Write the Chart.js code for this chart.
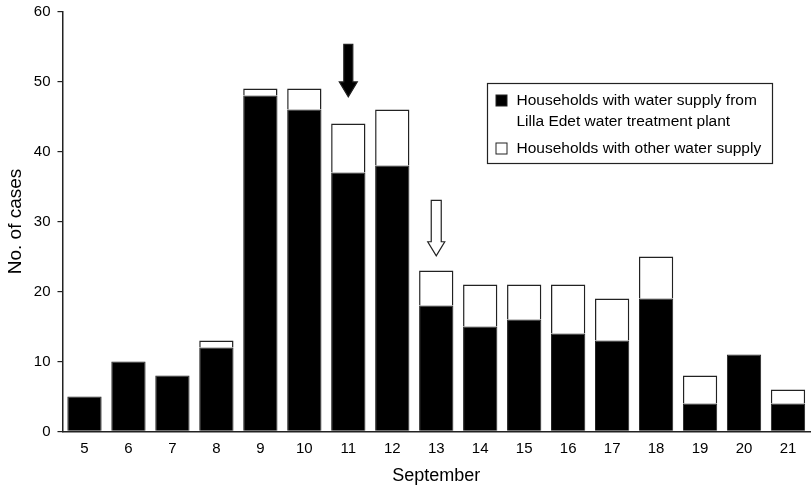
<!DOCTYPE html>
<html>
<head>
<meta charset="utf-8">
<script src="https://cdn.jsdelivr.net/npm/chart.js@4/dist/chart.umd.min.js"></script>
<style>
  html, body { margin: 0; padding: 0; background: #fff; }
  #wrap { width: 812px; height: 488px; }
</style>
</head>
<body>
<div id="wrap"><canvas id="casesChart" width="812" height="488"></canvas></div>
<script>
// days of September
var days = ['5', '6', '7', '8', '9', '10', '11', '12', '13', '14', '15', '16', '17', '18', '19', '20', '21'];
// households supplied by Lilla Edet plant
var lillaEdet = [5, 10, 8, 12, 48, 46, 37, 38, 18, 15, 16, 14, 13, 19, 4, 11, 4];
// households with other supply
var otherSupply = [0, 0, 0, 1, 1, 3, 7, 8, 5, 6, 5, 7, 6, 6, 4, 0, 2];
var yTicks = [0, 10, 20, 30, 40, 50, 60];
// arrows: day, top value, tip value, filled or not
var arrows = [
    { day: '11', from: 55.3, to: 47.8, filled: true },
    { day: '13', from: 33.0, to: 25.1, filled: false }
];

var FONT = '"Liberation Sans", Arial, Helvetica, sans-serif';

var arrowPlugin = {
    id: 'arrows',
    afterDatasetsDraw: function(chart) {
        var ctx = chart.ctx;
        var xs = chart.scales.x, ys = chart.scales.y;
        ctx.save();
        arrows.forEach(function(a) {
            var cx = xs.getPixelForValue(days.indexOf(a.day));
            var top = ys.getPixelForValue(a.from);
            var tip = ys.getPixelForValue(a.to);
            var shaft = a.filled ? 4.5 : 5;
            var head = a.filled ? 9 : 8.5;
            var headH = a.filled ? 15 : 14;
            ctx.beginPath();
            ctx.moveTo(cx - shaft, top);
            ctx.lineTo(cx + shaft, top);
            ctx.lineTo(cx + shaft, tip - headH);
            ctx.lineTo(cx + head, tip - headH);
            ctx.lineTo(cx, tip);
            ctx.lineTo(cx - head, tip - headH);
            ctx.lineTo(cx - shaft, tip - headH);
            ctx.closePath();
            ctx.fillStyle = a.filled ? '#000' : '#fff';
            ctx.fill();
            ctx.lineWidth = 1.2;
            ctx.strokeStyle = '#222';
            ctx.stroke();
        });
        ctx.restore();
    }
};

var legendPlugin = {
    id: 'boxLegend',
    afterDraw: function(chart) {
        var ctx = chart.ctx;
        var x0 = 487.5, y0 = 83.5, w = 285, h = 80;
        ctx.save();
        ctx.fillStyle = '#fff';
        ctx.fillRect(x0, y0, w, h);
        ctx.lineWidth = 1.2;
        ctx.strokeStyle = '#222';
        ctx.strokeRect(x0, y0, w, h);
        ctx.font = '15.5px ' + FONT;
        ctx.textBaseline = 'middle';
        chart.data.datasets.forEach(function(ds, i) {
            var lines = ds.legendLines;
            var ly = i === 0 ? y0 + 17 : y0 + 65;
            ctx.fillStyle = ds.backgroundColor;
            ctx.fillRect(x0 + 8.5, ly - 5.5, 11, 11);
            ctx.strokeStyle = '#222';
            ctx.lineWidth = 1;
            ctx.strokeRect(x0 + 8.5, ly - 5.5, 11, 11);
            ctx.fillStyle = '#000';
            lines.forEach(function(t, k) {
                ctx.fillText(t, x0 + 29, ly + k * 21);
            });
        });
        ctx.restore();
    }
};

var data = {
    labels: days,
    datasets: [
        {
            label: 'Households with water supply from Lilla Edet water treatment plant',
            legendLines: ['Households with water supply from', 'Lilla Edet water treatment plant'],
            data: lillaEdet,
            backgroundColor: '#000',
            borderColor: '#222',
            borderWidth: 1,
            categoryPercentage: 0.78,
            barPercentage: 1.0,
            stack: 's'
        },
        {
            label: 'Households with other water supply',
            legendLines: ['Households with other water supply'],
            data: otherSupply,
            backgroundColor: '#fff',
            borderColor: '#222',
            borderWidth: 1.5,
            categoryPercentage: 0.78,
            barPercentage: 1.0,
            stack: 's'
        }
    ]
};

var myChart = new Chart(document.getElementById('casesChart'), {
    type: 'bar',
    data: data,
    plugins: [arrowPlugin, legendPlugin],
    options: {
        responsive: false,
        animation: false,
        layout: { padding: { top: 0, right: 2, left: 0, bottom: 0 } },
        plugins: {
            legend: { display: false },
            tooltip: { enabled: false }
        },
        scales: {
            x: {
                stacked: true,
                grid: { display: false, drawTicks: false },
                border: { display: true, color: '#222', width: 1.5 },
                ticks: { color: '#000', font: { family: FONT, size: 15 }, padding: 8, maxRotation: 0 },
                title: { display: true, text: 'September', color: '#000', font: { family: FONT, size: 18 }, padding: { top: 0, bottom: 1 } }
            },
            y: {
                stacked: true,
                min: 0,
                max: 60,
                afterBuildTicks: function(axis) {
                    axis.ticks = yTicks.map(function(v) { return { value: v }; });
                },
                grid: { drawOnChartArea: false, drawTicks: true, tickLength: 5, color: '#222', lineWidth: 1.2 },
                border: { display: true, color: '#222', width: 1.5 },
                ticks: { color: '#000', font: { family: FONT, size: 15, lineHeight: 0.6 }, padding: 7 },
                title: { display: true, text: 'No. of cases', color: '#000', font: { family: FONT, size: 19 }, padding: { top: 4, bottom: 0 } }
            }
        }
    }
});
</script>
</body>
</html>
